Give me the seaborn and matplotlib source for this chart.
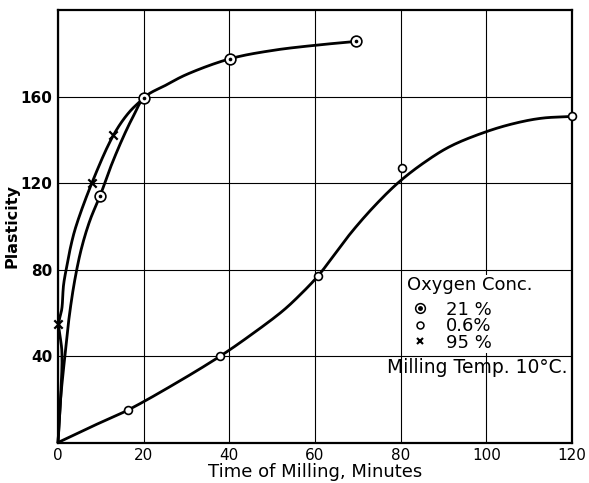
import numpy as np
import pandas as pd
import matplotlib
matplotlib.use("Agg")
import matplotlib.pyplot as plt
import seaborn as sns
from matplotlib.legend_handler import HandlerTuple

# ---- data ----
# measured points (Time of Milling, min ; Plasticity)
x_21 = [9.8, 20.0, 40.2, 69.6]
y_21 = [114, 159.5, 177.5, 185.5]
x_06 = [16.3, 37.9, 60.6, 80.3, 120.0]
y_06 = [15.0, 40.0, 76.8, 126.9, 150.8]
x_95 = [0.0, 7.9, 12.9]
y_95 = [55.0, 120.0, 142.0]

# smooth curves
cx_21 = [0, 0.6, 1.6, 2.6, 3.9, 5.5, 7.5, 9.8, 12.4, 15.3, 17.6, 20.1, 25.4, 30.0, 40.2, 50.0, 60.0, 69.6]
cy_21 = [0, 20, 40, 58, 75, 90, 103, 114, 128, 141.6, 151, 159.5, 165.5, 170.2, 177.5, 181.3, 183.7, 185.5]
cx_95 = [0, 0.6, 0.9, 0.2, 0.9, 1.3, 2.1, 3.0, 4.2, 7.9, 12.9, 16.5, 20.1]
cy_95 = [0, 20, 42, 55, 62, 73, 82, 91, 100, 120, 142, 152.5, 159.5]
cx_06 = [0, 8, 16.3, 28, 37.9, 44.5, 52.3, 56.1, 60.6, 64.5, 68.2, 73.7, 79.5, 85.5, 91.6, 100.2, 107, 113, 120]
cy_06 = [0, 7.5, 15.0, 28, 40, 49, 60.6, 67.5, 76.8, 86.8, 96.5, 109, 120.3, 129.5, 137, 143.9, 147.8, 150, 150.8]

x_ticks = [0, 20, 40, 60, 80, 100, 120]
y_ticks = [40, 80, 120, 160]
labels = ["21 %", "0.6%", "95 %"]

# pixel-ish scaling used only for the curve parameterisation
SX, SY = 4.28, 2.16


def smooth(xs, ys, n=16, alpha=0.5):
    """Centripetal Catmull-Rom rendering of traced points (drawing only)."""
    p = np.column_stack([np.array(xs) * SX, np.array(ys) * SY]).astype(float)
    p = np.vstack([p[0] * 2 - p[1], p, p[-1] * 2 - p[-2]])
    out = []
    for i in range(1, len(p) - 2):
        P0, P1, P2, P3 = p[i - 1], p[i], p[i + 1], p[i + 2]
        t0 = 0.0
        t1 = t0 + max(np.linalg.norm(P1 - P0), 1e-6) ** alpha
        t2 = t1 + max(np.linalg.norm(P2 - P1), 1e-6) ** alpha
        t3 = t2 + max(np.linalg.norm(P3 - P2), 1e-6) ** alpha
        for t in np.linspace(t1, t2, n, endpoint=False):
            A1 = (t1 - t) / (t1 - t0) * P0 + (t - t0) / (t1 - t0) * P1
            A2 = (t2 - t) / (t2 - t1) * P1 + (t - t1) / (t2 - t1) * P2
            A3 = (t3 - t) / (t3 - t2) * P2 + (t - t2) / (t3 - t2) * P3
            B1 = (t2 - t) / (t2 - t0) * A1 + (t - t0) / (t2 - t0) * A2
            B2 = (t3 - t) / (t3 - t1) * A2 + (t - t1) / (t3 - t1) * A3
            out.append((t2 - t) / (t2 - t1) * B1 + (t - t1) / (t2 - t1) * B2)
    out.append(p[-2])
    out = np.array(out)
    return pd.DataFrame({"x": out[:, 0] / SX, "y": out[:, 1] / SY})


sns.set_theme(style="white")
plt.rcParams["font.family"] = ["DejaVu Sans"]

fig = plt.figure(figsize=(5.89, 4.83), dpi=100)
ax = fig.add_axes([0.0985, 0.0838, 0.8727, 0.8954])

for cx, cy in [(cx_21, cy_21), (cx_95, cy_95), (cx_06, cy_06)]:
    d = smooth(cx, cy)
    sns.lineplot(data=d, x="x", y="y", sort=False, ax=ax, color="black",
                 lw=2.0, estimator=None, zorder=3, clip_on=False)

d21 = pd.DataFrame({"x": x_21, "y": y_21})
d06 = pd.DataFrame({"x": x_06, "y": y_06})
d95 = pd.DataFrame({"x": x_95, "y": y_95})

sns.scatterplot(data=d21, x="x", y="y", ax=ax, marker="o", s=60,
                facecolor="white", edgecolor="black", linewidth=1.2, zorder=5)
sns.scatterplot(data=d21, x="x", y="y", ax=ax, marker="o", s=7,
                color="black", linewidth=0, zorder=6)
sns.scatterplot(data=d06, x="x", y="y", ax=ax, marker="o", s=32,
                facecolor="white", edgecolor="black", linewidth=1.2, zorder=5,
                clip_on=False)
sns.scatterplot(data=d95, x="x", y="y", ax=ax, marker="x", s=36,
                color="black", linewidth=1.6, zorder=5, clip_on=False)

ax.set_xlim(0, 120)
ax.set_ylim(0, 200)
ax.set_xticks(x_ticks)
ax.set_yticks(y_ticks)
ax.set_xticklabels([str(v) for v in x_ticks], fontsize=11)
ax.set_yticklabels([str(v) for v in y_ticks], fontsize=11, fontweight="bold")
ax.tick_params(axis="both", length=0, pad=4, colors="black")
ax.grid(True, color="black", lw=0.8)
ax.set_axisbelow(True)
for s in ax.spines.values():
    s.set_color("black")
    s.set_linewidth(1.6)

ax.set_xlabel("Time of Milling, Minutes", fontsize=13, labelpad=0, color="black")
ax.set_ylabel("Plasticity", fontsize=11.5, fontweight="bold", labelpad=1, color="black")

# legend
h21a = plt.Line2D([], [], marker="o", ls="none", ms=7, mfc="white", mec="black", mew=1.1)
h21b = plt.Line2D([], [], marker="o", ls="none", ms=2.5, mfc="black", mec="black")
h06 = plt.Line2D([], [], marker="o", ls="none", ms=5, mfc="white", mec="black", mew=1.1)
h95 = plt.Line2D([], [], marker="x", ls="none", ms=5, mec="black", mew=1.5)
leg = ax.legend([(h21a, h21b), h06, h95], labels, title="Oxygen Conc.",
                handler_map={tuple: HandlerTuple(ndivide=1, pad=0)},
                loc="upper left", bbox_to_anchor=(0.678, 0.388), frameon=True,
                facecolor="white", edgecolor="none", framealpha=1,
                fontsize=13, title_fontsize=13, handlelength=1.4,
                handletextpad=0.75, labelspacing=-0.08, borderpad=0.05,
                borderaxespad=0, alignment="left")
leg._legend_box.sep = 5
for t in leg.get_texts():
    t.set_color("black")
leg.get_title().set_color("black")

ax.text(119, 34.5, "Milling Temp. 10°C.", fontsize=13.5, ha="right", va="center",
        color="black", zorder=7)

fig.savefig("out.png", dpi=100)
